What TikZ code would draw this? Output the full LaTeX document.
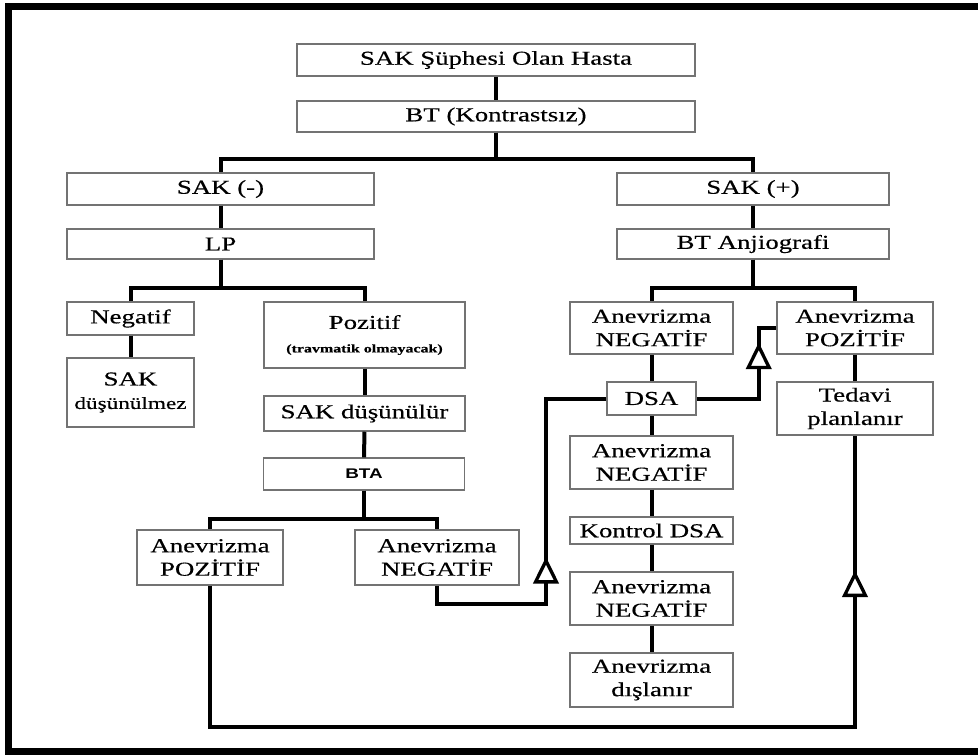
\documentclass[tikz,border=0pt]{standalone}
\usepackage{fontspec}
\setmainfont{Liberation Serif}[FakeStretch=1.36, FakeBold=0.4]
\newfontfamily\btafont{Liberation Sans}[FakeStretch=1.35]
\usetikzlibrary{arrows.meta,decorations.markings}

\tikzstyle{bx} = [draw=black!55, line width=1.1pt, fill=white, inner sep=0pt, align=center, font=\fontsize{14.8}{17.6}\selectfont]
\tikzstyle{ln} = [line width=3pt]
\tikzset{mk/.style={postaction={decorate}, decoration={markings, mark=at position #1 with {\arrow{Triangle[fill=white, length=20pt, width=19pt, line width=2.5pt]}}}}}

\begin{document}
\begin{tikzpicture}[x=0.75pt, y=-0.75pt]
    \useasboundingbox (0,0) rectangle (978,754);
    \draw[line width=5.25pt] (978,6.5) -- (8.5,6.5) -- (8.5,751) -- (978,751);
    \coordinate (c1) at (0,727);

    \node[bx, minimum width=298.5pt, minimum height=24pt] (top) at (496,60) {SAK Şüphesi Olan Hasta};
    \node[bx, minimum width=298.5pt, minimum height=23.25pt] (bt) at (496,116.5) {BT (Kontrastsız)};
    \node[bx, minimum width=230.25pt, minimum height=24pt] (sakneg) at (220.5,189) {SAK (-)};
    \node[bx, minimum width=230.25pt, minimum height=22.5pt] (lp) at (220.5,244) {LP};
    \node[bx, minimum width=204pt, minimum height=24pt] (sakpos) at (753,189) {SAK (+)};
    \node[bx, minimum width=204pt, minimum height=22.5pt] (btanj) at (753,244) {BT Anjiografi};
    \node[bx, minimum width=95.25pt, minimum height=24.75pt] (neg) at (130.5,318.5) {Negatif};
    \node[bx, minimum width=95.25pt, minimum height=51.75pt] (saknot) at (130.5,392.5)
      {SAK\\{\fontsize{12.8}{15.5}\selectfont düşünülmez}};
    \node[bx, minimum width=150.75pt, minimum height=49.5pt] (poz) at (364.5,335)
      {Pozitif\\{\fontsize{8.8}{11}\selectfont\bfseries (travmatik olmayacak)}};
    \node[bx, minimum width=150.75pt, minimum height=26.25pt] (sakyes) at (364.5,413.5) {SAK düşünülür};
    \node[bx, minimum width=150.75pt, minimum height=24pt] (bta) at (364,474)
      {\btafont\bfseries\fontsize{10.5}{12}\selectfont BTA};
    \node[bx, minimum width=109.5pt, minimum height=41.25pt] (lpoz) at (210,557.5) {Anevrizma\\POZİTİF};
    \node[bx, minimum width=123pt, minimum height=41.25pt] (lneg) at (437,557.5) {Anevrizma\\NEGATİF};
    \node[bx, minimum width=122.25pt, minimum height=39pt] (aneg1) at (651.5,328) {Anevrizma\\NEGATİF};
    \node[bx, minimum width=117pt, minimum height=39pt] (apoz) at (855,328) {Anevrizma\\POZİTİF};
    \node[bx, minimum width=66.75pt, minimum height=24.75pt] (dsa) at (651.5,398.5) {DSA};
    \node[bx, minimum width=117pt, minimum height=39.75pt] (ted) at (855,408.5) {Tedavi\\planlanır};
    \node[bx, minimum width=122.25pt, minimum height=39.75pt] (aneg2) at (651.5,462.5) {Anevrizma\\NEGATİF};
    \node[bx, minimum width=122.25pt, minimum height=20.25pt] (kdsa) at (651.5,530.5) {Kontrol DSA};
    \node[bx, minimum width=122.25pt, minimum height=39.75pt] (aneg3) at (651.5,598.5) {Anevrizma\\NEGATİF};
    \node[bx, minimum width=122.25pt, minimum height=40.5pt] (excl) at (651.5,680) {Anevrizma\\dışlanır};

    \draw[ln] (top) -- (bt);
    \draw[ln] (bt.south) -- ++(0,26) -| (sakneg);
    \draw[ln] (bt.south) -- ++(0,26) -| (sakpos);
    \draw[ln] (sakneg) -- (lp);
    \draw[ln] (sakpos) -- (btanj);
    \draw[ln] (lp.south) -- ++(0,28) -| (neg);
    \draw[ln] (lp.south) -- ++(0,28) -| (poz);
    \draw[ln] (neg) -- (saknot);
    \draw[ln] (poz) -- (sakyes);
    \draw[ln] (sakyes) -- (bta);
    \draw[ln] (bta.south) -- ++(0,28) -| (lpoz);
    \draw[ln] (bta.south) -- ++(0,28) -| (lneg);
    \draw[ln] (btanj.south) -- ++(0,28) -| (aneg1);
    \draw[ln] (btanj.south) -- ++(0,28) -| (apoz);
    \draw[ln] (aneg1) -- (dsa);
    \draw[ln] (dsa) -- (aneg2);
    \draw[ln] (aneg2) -- (kdsa);
    \draw[ln] (kdsa) -- (aneg3);
    \draw[ln] (aneg3) -- (excl);
    \draw[ln] (apoz) -- (ted);
    \draw[ln, mk=-24pt] (dsa.east) -- ++(62,0) |- (apoz.west);
    \draw[ln, mk=-164pt] (lneg.south) |- (546,604) |- (dsa.west);
    \draw[ln, mk=-101pt] (lpoz.south) -- (lpoz.south |- c1) -| (ted.south);
\end{tikzpicture}
\end{document}
